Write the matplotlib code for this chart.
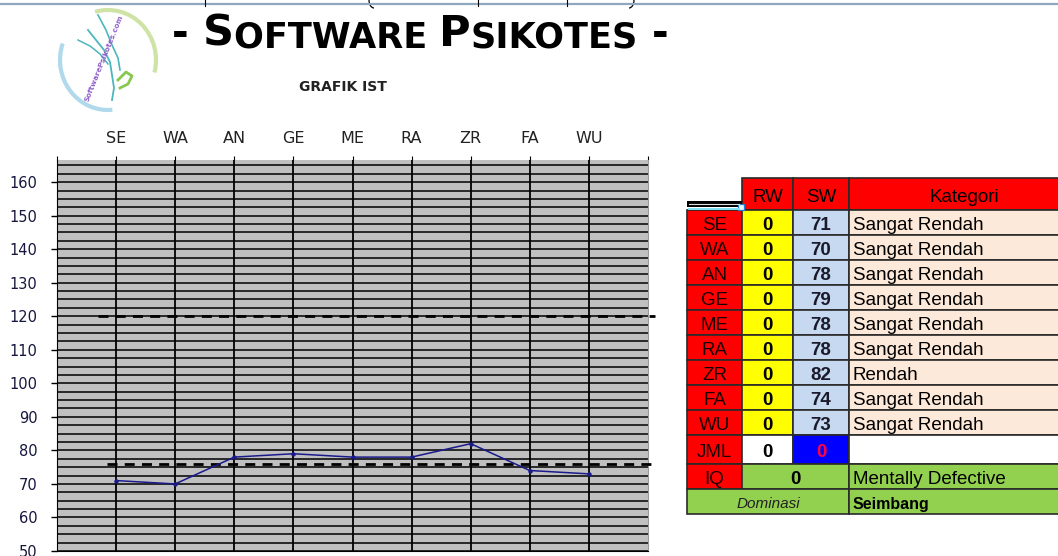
import matplotlib
matplotlib.use('Agg')
import matplotlib.pyplot as plt
from matplotlib.patches import Rectangle, Arc
from matplotlib.ticker import MultipleLocator

# data
categories = ['SE', 'WA', 'AN', 'GE', 'ME', 'RA', 'ZR', 'FA', 'WU']
rw_scores = [0, 0, 0, 0, 0, 0, 0, 0, 0]
sw_scores = [71, 70, 78, 79, 78, 78, 82, 74, 73]
kategori = ['Sangat Rendah', 'Sangat Rendah', 'Sangat Rendah', 'Sangat Rendah',
            'Sangat Rendah', 'Sangat Rendah', 'Rendah', 'Sangat Rendah', 'Sangat Rendah']
jml_rw = 0
jml_sw = 0
iq_value = 0
iq_label = 'Mentally Defective'
dominasi = 'Seimbang'
ref_upper = 120
ref_lower = 76
y_ticks = [50, 60, 70, 80, 90, 100, 110, 120, 130, 140, 150, 160]

W, H = 1058, 556
fig = plt.figure(figsize=(W / 100, H / 100), dpi=100)

# overlay in pixel coords for title, logo and table
ov = fig.add_axes([0, 0, 1, 1])
ov.set_xlim(0, W)
ov.set_ylim(H, 0)
ov.axis('off')

# cut-off strip at the very top
ov.plot([0, W], [3.5, 3.5], color='#8FA8C0', lw=1.6)
for xx in [205, 478, 567]:
    ov.plot([xx, xx], [0, 6], color='black', lw=0.8)
ov.add_patch(Arc((374, 0), 10, 16, theta1=90, theta2=180, color='black', lw=0.9))
ov.add_patch(Arc((629, 0), 10, 16, theta1=0, theta2=90, color='black', lw=0.9))

# logo
ov.add_patch(Arc((108, 60), 96, 100, angle=0, theta1=-105, theta2=15, color='#CFE3A6', lw=3))
ov.add_patch(Arc((108, 60), 96, 100, angle=0, theta1=85, theta2=200, color='#B0DAEC', lw=3))
ov.plot([88, 96, 104, 110, 112, 114, 112], [30, 40, 50, 62, 75, 88, 100], color='#4DB6BC', lw=1.3)
ov.plot([98, 106, 112, 118, 120], [15, 30, 45, 58, 70], color='#4DB6BC', lw=1.2)
ov.plot([78, 90, 100, 108], [40, 46, 54, 64], color='#4DB6BC', lw=1.1)
ov.plot([118, 126, 132, 128, 120], [80, 72, 76, 84, 88], color='#86C850', lw=2)
ov.text(104, 58, 'SoftwarePsikotes.com', fontsize=5.3, color='#9060CC', rotation=68,
        ha='center', va='center', fontweight='bold')

# title in small caps
parts = [('- ', 29), ('S', 31), ('OFTWARE ', 25.3), ('P', 31), ('SIKOTES', 25.3), (' -', 29)]
prev = ov.text(172, 46, parts[0][0], fontsize=parts[0][1], fontweight='bold',
               family='DejaVu Sans', va='baseline', ha='left')
for txt, sz in parts[1:]:
    prev = ov.annotate(txt, xy=(1, 0), xycoords=prev, fontsize=sz, fontweight='bold',
                       family='DejaVu Sans', va='bottom', ha='left')

ov.text(343, 87, 'GRAFIK IST', fontsize=10, fontweight='bold', ha='center', va='center',
        color='#222222')

# table
x_edges = [687, 742, 793, 849, 1080]
row_top = 210
row_h = 25
red = '#FF0000'
yellow = '#FFFF00'
blue_l = '#C6D9F1'
peach = '#FDE9D9'
green = '#92D050'
edge = '#2A2A2A'


def cell(x0, x1, y0, y1, fc, text='', color='black', weight='normal', style='normal',
         size=13.5, ha='center'):
    ov.add_patch(Rectangle((x0, y0), x1 - x0, y1 - y0, facecolor=fc, edgecolor=edge,
                           lw=1.2, clip_on=False))
    if text == '':
        return
    tx = (x0 + x1) / 2 if ha == 'center' else x0 + 4
    ov.text(tx, (y0 + y1) / 2 + 1, text, ha=ha, va='center_baseline', fontsize=size,
            color=color, fontweight=weight, style=style, family='Liberation Sans')


# header
cell(x_edges[1], x_edges[2], 178, row_top, red, 'RW')
cell(x_edges[2], x_edges[3], 178, row_top, red, 'SW')
cell(x_edges[3], x_edges[4], 178, row_top, red, 'Kategori')

for i, cat in enumerate(categories):
    y0 = row_top + i * row_h
    y1 = y0 + row_h
    cell(x_edges[0], x_edges[1], y0, y1, red, cat, color='#1A0000')
    cell(x_edges[1], x_edges[2], y0, y1, yellow, str(rw_scores[i]), weight='bold')
    cell(x_edges[2], x_edges[3], y0, y1, blue_l, str(sw_scores[i]), weight='bold',
         color='#1A1A2A')
    cell(x_edges[3], x_edges[4], y0, y1, peach, kategori[i], ha='left')

y_jml = row_top + len(categories) * row_h
cell(x_edges[0], x_edges[1], y_jml, y_jml + 29, red, 'JML', color='#1A0000')
cell(x_edges[1], x_edges[2], y_jml, y_jml + 29, 'white', str(jml_rw), weight='bold')
cell(x_edges[2], x_edges[3], y_jml, y_jml + 29, '#0000FF', str(jml_sw), weight='bold',
     color='#FF0044')
cell(x_edges[3], x_edges[4], y_jml, y_jml + 29, 'white')

y_iq = y_jml + 29
cell(x_edges[0], x_edges[1], y_iq, y_iq + 25, red, 'IQ', color='#1A0000')
cell(x_edges[1], x_edges[3], y_iq, y_iq + 25, green, str(iq_value), weight='bold')
cell(x_edges[3], x_edges[4], y_iq, y_iq + 25, green, iq_label, ha='left')

y_dom = y_iq + 25
cell(x_edges[0], x_edges[3], y_dom, y_dom + 25, green, 'Dominasi', style='italic',
     size=11, color='#222222')
cell(x_edges[3], x_edges[4], y_dom, y_dom + 25, green, dominasi, weight='bold', size=11.5,
     ha='left')

# selection handle left over from the sheet
ov.add_patch(Rectangle((687, 201), 55, 6, facecolor='black', edgecolor='none'))
ov.plot([689, 739], [204, 204], color='#DDDDDD', lw=0.8)
ov.plot([689, 739], [208.5, 208.5], color='#7FE0F0', lw=1.4)
ov.add_patch(Rectangle((738, 204), 6, 6, facecolor='#E8F8FF', edgecolor='#1E7FD0', lw=0.9))

# chart
ax = fig.add_axes([57 / W, (H - 551) / H, (648 - 57) / W, (551 - 160) / H])
ax.set_facecolor('#C0C0C0')
ax.set_xlim(0, 10)
ax.set_ylim(50, 166.6)
x_pos = list(range(1, len(categories) + 1))

ax.yaxis.set_minor_locator(MultipleLocator(2.5))
ax.set_yticks(y_ticks)
ax.set_yticklabels([str(v) for v in y_ticks], fontsize=10.5, color='#16163E')
ax.tick_params(axis='y', which='major', direction='out', length=4, width=1, pad=10)
ax.tick_params(axis='y', which='minor', length=0)
ax.grid(True, axis='y', which='both', color='black', lw=1.1)

ax.xaxis.tick_top()
ax.set_xticks(x_pos)
ax.set_xticklabels(categories, fontsize=11.5, color='#222222')
ax.set_xticks([0, 10], minor=True)
ax.tick_params(axis='x', which='both', direction='out', length=3, width=0.8, pad=7, top=True,
               bottom=False)
ax.grid(True, axis='x', which='major', color='black', lw=1.3)
ax.set_axisbelow(True)

ax.spines['top'].set_visible(False)
ax.spines['right'].set_color('#9A9A9A')
ax.spines['left'].set_color('black')
ax.spines['bottom'].set_color('black')

ax.plot([0.7, 10.12], [ref_upper, ref_upper], color='black', lw=2, ls=(0, (3.6, 2.6)),
        clip_on=False, zorder=4)
ax.plot([0.85, 10.12], [ref_lower, ref_lower], color='black', lw=2, ls=(0, (3.6, 2.6)),
        clip_on=False, zorder=4)
ax.plot(x_pos, sw_scores, color='#1A1A8C', lw=1.1, marker='o', markersize=2.2, zorder=5)

fig.savefig('out.png', dpi=100)
